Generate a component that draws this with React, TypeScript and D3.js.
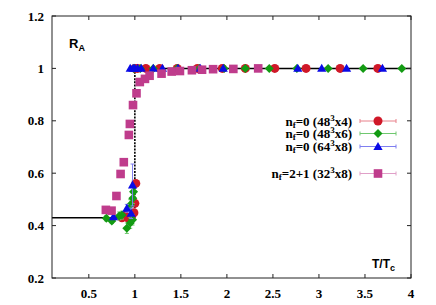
import React from 'react';
import * as d3 from 'd3';

// [T/Tc, R_A, err]
const red48x4: number[][] = [
  [0.86, 0.43, 0.01], [0.89, 0.44, 0.01], [0.93, 0.428, 0.01], [0.96, 0.434, 0.01],
  [0.99, 0.449, 0.01], [1.0, 0.485, 0.01], [1.01, 0.561, 0.01],
  [1.0, 1, 0], [1.03, 1, 0], [1.12, 1, 0], [1.27, 1, 0], [1.46, 1, 0], [1.68, 1, 0],
  [1.95, 1, 0], [2.2, 1, 0], [2.52, 1, 0], [2.86, 1, 0], [3.23, 1, 0], [3.64, 1, 0],
];
const green48x6: number[][] = [
  [0.69, 0.428, 0.01], [0.75, 0.418, 0.01], [0.83, 0.437, 0.015], [0.86, 0.44, 0.015],
  [0.913, 0.39, 0.02], [0.95, 0.41, 0.02], [0.975, 0.422, 0.02], [0.95, 0.479, 0.02],
  [0.978, 0.504, 0.02], [0.986, 0.529, 0.02],
  [0.99, 1, 0], [1.06, 1, 0], [1.2, 1, 0], [1.46, 1, 0], [1.7, 1, 0], [1.97, 1, 0],
  [2.2, 1, 0], [2.46, 1, 0], [2.76, 1, 0], [3.1, 1, 0], [3.48, 1, 0], [3.9, 1, 0],
];
const blue64x8: number[][] = [
  [0.768, 0.434, 0.01], [0.913, 0.466, 0.015], [0.96, 0.447, 0.02], [0.975, 0.555, 0.08],
  [0.95, 1, 0], [0.98, 1, 0], [1.0, 1, 0], [1.03, 1, 0], [1.07, 1, 0], [1.2, 1, 0],
  [1.3, 1, 0], [1.47, 1, 0], [1.71, 1, 0], [1.96, 1, 0], [2.77, 1, 0], [3.03, 1, 0],
  [3.3, 1, 0], [3.69, 1, 0],
];
const mag32x8: number[][] = [
  [0.685, 0.46, 0], [0.747, 0.457, 0], [0.8, 0.513, 0], [0.845, 0.597, 0], [0.88, 0.642, 0],
  [0.935, 0.746, 0], [0.946, 0.788, 0], [0.98, 0.86, 0], [1.018, 0.905, 0], [1.054, 0.948, 0],
  [1.11, 0.96, 0], [1.16, 0.972, 0], [1.29, 0.98, 0], [1.4, 0.988, 0], [1.49, 0.99, 0],
  [1.62, 0.993, 0], [1.73, 0.995, 0], [1.85, 0.997, 0], [2.07, 0.998, 0], [2.34, 1, 0],
];

const xTicks = [0.5, 1, 1.5, 2, 2.5, 3, 3.5, 4];
const yTicks = [0.2, 0.4, 0.6, 0.8, 1, 1.2];
const stepLow = 0.43;

const W = 436, H = 305;
const m = { left: 52, right: 411, top: 16, bottom: 278 };

const x = d3.scaleLinear().domain([0.1, 4]).range([m.left, m.right]);
const y = d3.scaleLinear().domain([0.2, 1.2]).range([m.bottom, m.top]);

const serif = '"Liberation Serif", "Times New Roman", serif';
const sans = '"Liberation Sans", Arial, sans-serif';

type Shape = 'circle' | 'diamond' | 'triangle' | 'square';

const Marker = ({ shape, cx, cy, color }: { shape: Shape; cx: number; cy: number; color: string }) => {
  if (shape === 'circle') return <circle cx={cx} cy={cy} r={4.5} fill={color} />;
  if (shape === 'square') return <rect x={cx - 4.3} y={cy - 4.3} width={8.6} height={8.6} fill={color} />;
  if (shape === 'diamond') {
    const s = 4.5;
    return <path d={`M${cx},${cy - s}L${cx + s},${cy}L${cx},${cy + s}L${cx - s},${cy}Z`} fill={color} />;
  }
  const s = 4.6;
  return <path d={`M${cx},${cy - s}L${cx + s},${cy + s * 0.75}L${cx - s},${cy + s * 0.75}Z`} fill={color} />;
};

const series = [
  { data: red48x4, shape: 'circle' as Shape, color: '#d01828', bar: '#e8808a', label: '48', sub: 'x4', nf: '0' },
  { data: green48x6, shape: 'diamond' as Shape, color: '#139b13', bar: '#70c870', label: '48', sub: 'x6', nf: '0' },
  { data: blue64x8, shape: 'triangle' as Shape, color: '#0a0ae6', bar: '#7f7ff0', label: '64', sub: 'x8', nf: '0' },
  { data: mag32x8, shape: 'square' as Shape, color: '#bf3c8c', bar: '#e0a0c8', label: '32', sub: 'x8', nf: '2+1' },
];
const legendY = [121, 133.5, 146.5, 173.5];

const App = () => {
  const stepPath = d3.line<number[]>().x(d => x(d[0])).y(d => y(d[1]));
  return (
    <svg width={W} height={H} style={{ position: 'absolute', left: 0, top: 0 }}>
      <rect width={W} height={H} fill="white" />
      {/* step function */}
      <path d={stepPath([[0.1, stepLow], [1, stepLow]]) || ''} stroke="black" strokeWidth={1.5} fill="none" />
      <path d={stepPath([[1, 1], [4, 1]]) || ''} stroke="black" strokeWidth={1.5} fill="none" />
      <path d={stepPath([[1, stepLow], [1, 1]]) || ''} stroke="black" strokeWidth={1.6} strokeDasharray="2,1.2" fill="none" />

      {series.map((s, si) => (
        <g key={si}>
          {s.data.filter(d => d[2] > 0).map((d, i) => (
            <g key={'e' + i} stroke={s.bar} strokeWidth={1}>
              <line x1={x(d[0])} x2={x(d[0])} y1={y(d[1] - d[2])} y2={y(d[1] + d[2])} />
              <line x1={x(d[0]) - 2} x2={x(d[0]) + 2} y1={y(d[1] - d[2])} y2={y(d[1] - d[2])} />
              <line x1={x(d[0]) - 2} x2={x(d[0]) + 2} y1={y(d[1] + d[2])} y2={y(d[1] + d[2])} />
            </g>
          ))}
          {s.data.map((d, i) => (
            <Marker key={i} shape={s.shape} cx={x(d[0])} cy={y(d[1])} color={s.color} />
          ))}
        </g>
      ))}

      {/* frame */}
      <rect x={m.left} y={m.top} width={m.right - m.left} height={m.bottom - m.top} fill="none" stroke="#222" strokeWidth={1} />
      {xTicks.map(t => (
        <g key={'x' + t}>
          <line x1={x(t)} x2={x(t)} y1={m.bottom} y2={m.bottom - 4} stroke="#222" />
          <line x1={x(t)} x2={x(t)} y1={m.top} y2={m.top + 4} stroke="#222" />
          <text x={x(t)} y={298} textAnchor="middle" fontFamily={serif} fontWeight="bold" fontSize={13}>{t}</text>
        </g>
      ))}
      {yTicks.map(t => (
        <g key={'y' + t}>
          <line x1={m.left} x2={m.left + 4} y1={y(t)} y2={y(t)} stroke="#222" />
          <line x1={m.right} x2={m.right - 4} y1={y(t)} y2={y(t)} stroke="#222" />
          <text x={44} y={y(t) + 4.5} textAnchor="end" fontFamily={serif} fontWeight="bold" fontSize={13}>{t}</text>
        </g>
      ))}

      <text x={69} y={48} fontFamily={sans} fontWeight="bold" fontSize={13}>
        R<tspan fontSize={9} dy={3}>A</tspan>
      </text>
      <text x={372} y={268} fontFamily={sans} fontWeight="bold" fontSize={12}>
        T/T<tspan fontSize={9} dy={3}>c</tspan>
      </text>

      {/* legend */}
      {series.map((s, i) => {
        const ly = legendY[i];
        return (
          <g key={'l' + i}>
            <text x={352} y={ly + 4.5} textAnchor="end" fontFamily={serif} fontWeight="bold" fontSize={13}>
              n<tspan fontSize={9} dy={2}>f</tspan>
              <tspan dy={-2}>={s.nf} ({s.label}</tspan>
              <tspan fontSize={9} dy={-5}>3</tspan>
              <tspan dy={5}>{s.sub})</tspan>
            </text>
            <g stroke={s.bar} strokeWidth={1}>
              <line x1={360} x2={396} y1={ly} y2={ly} />
              <line x1={360} x2={360} y1={ly - 2} y2={ly + 2} />
              <line x1={396} x2={396} y1={ly - 2} y2={ly + 2} />
            </g>
            <Marker shape={s.shape} cx={378} cy={ly} color={s.color} />
          </g>
        );
      })}
    </svg>
  );
};

export default App;
